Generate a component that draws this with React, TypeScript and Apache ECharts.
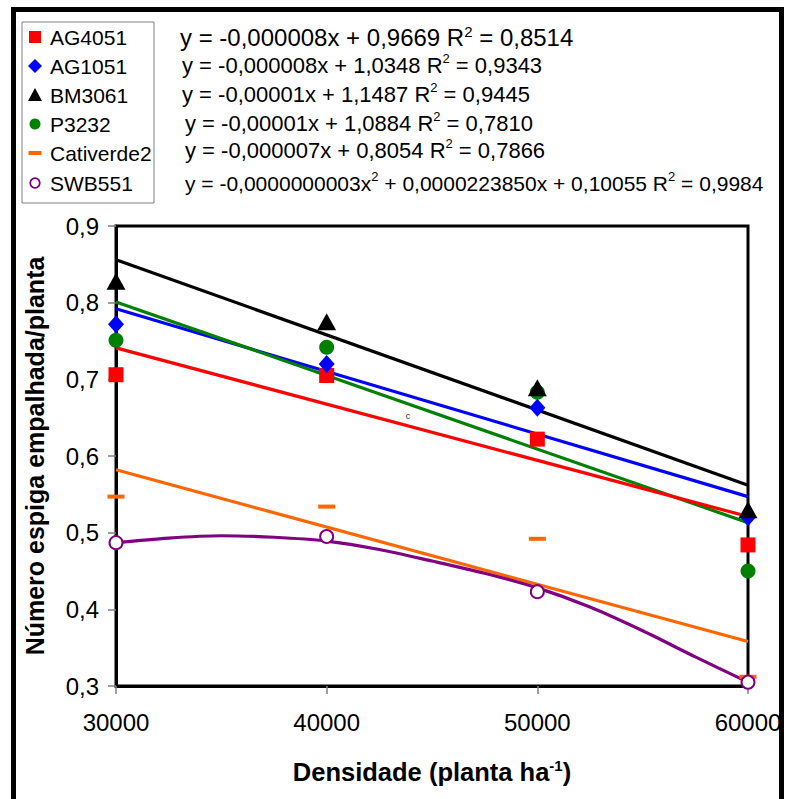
import React, { useEffect, useRef } from "react";
import * as echarts from "echarts";

const densities = [30000, 40000, 50000, 60000];
const ag4051 = [0.706, 0.705, 0.622, 0.484];
const ag1051 = [0.772, 0.72, 0.663, 0.52];
const bm3061 = [0.828, 0.775, 0.689, 0.53];
const p3232 = [0.751, 0.742, 0.683, 0.45];
const cativerde2 = [0.547, 0.534, 0.492, 0.312];
const swb551 = [0.487, 0.495, 0.423, 0.305];

const trendX = [30000, 60000];
const ag4051Trend = [0.741, 0.521];
const ag1051Trend = [0.792, 0.547];
const bm3061Trend = [0.856, 0.562];
const p3232Trend = [0.801, 0.513];
const cativerde2Trend = [0.582, 0.358];

const swbCurveX = [30000, 32500, 35000, 37500, 40000, 42500, 45000, 47500, 50000, 52500, 55000, 57500, 60000];
const swbCurveY = [0.487, 0.493, 0.496, 0.494, 0.489, 0.478, 0.463, 0.447, 0.428, 0.403, 0.372, 0.338, 0.305];

const names = ["AG4051", "AG1051", "BM3061", "P3232", "Cativerde2", "SWB551"];
const equations = [
  ["y = -0,000008x + 0,9669 R", "2", " = 0,8514"],
  ["y = -0,000008x + 1,0348 R", "2", " = 0,9343"],
  ["y = -0,00001x + 1,1487 R", "2", " = 0,9445"],
  ["y = -0,00001x + 1,0884 R", "2", " = 0,7810"],
  ["y = -0,000007x + 0,8054 R", "2", " = 0,7866"],
  ["y = -0,0000000003x", "2", " + 0,0000223850x + 0,10055 R", "2", " = 0,9984"],
];

const FONT = "'Liberation Sans', Arial, Helvetica, sans-serif";
const RED = "#FF0000";
const BLUE = "#0000FF";
const BLACK = "#000000";
const GREEN = "#008000";
const ORANGE = "#FF6600";
const PURPLE = "#800080";

const pairs = (xs: number[], ys: number[]) => xs.map((x, i) => [x, ys[i]]);

function eqText(parts: string[]) {
  return parts.map((p, i) => (i % 2 === 0 ? `{n|${p}}` : `{s|${p}}`)).join("");
}

export default function App() {
  const ref = useRef<HTMLDivElement>(null);
  useEffect(() => {
    if (!ref.current) return;
    const chart = echarts.init(ref.current, null, { renderer: "svg" });

    const legendY = [37, 66, 95, 124, 153, 183];
    const eqX = [180, 182, 182, 185, 185, 185];
    const eqY = [37, 65, 94, 123, 150, 183];
    const eqSize = [24, 22, 22, 22, 22, 21];
    const lx = 35;

    const graphic: any[] = [
      {
        type: "rect",
        shape: { x: 22, y: 22, width: 132, height: 181 },
        style: { fill: "#fff", stroke: "#808080", lineWidth: 1 },
        z: 10,
      },
      { type: "rect", shape: { x: lx - 6, y: legendY[0] - 6, width: 12, height: 12 }, style: { fill: RED }, z: 11 },
      {
        type: "polygon",
        shape: { points: [[lx, legendY[1] - 7], [lx + 7, legendY[1]], [lx, legendY[1] + 7], [lx - 7, legendY[1]]] },
        style: { fill: BLUE },
        z: 11,
      },
      {
        type: "polygon",
        shape: { points: [[lx, legendY[2] - 7], [lx + 7, legendY[2] + 6], [lx - 7, legendY[2] + 6]] },
        style: { fill: BLACK },
        z: 11,
      },
      { type: "circle", shape: { cx: lx, cy: legendY[3], r: 5.5 }, style: { fill: GREEN }, z: 11 },
      { type: "rect", shape: { x: lx - 6.5, y: legendY[4] - 2, width: 13, height: 4 }, style: { fill: ORANGE }, z: 11 },
      {
        type: "circle",
        shape: { cx: lx, cy: legendY[5], r: 4.8 },
        style: { fill: "#fff", stroke: PURPLE, lineWidth: 1.8 },
        z: 11,
      },
      ...names.map((n, i) => ({
        type: "text",
        x: 50,
        y: legendY[i],
        z: 11,
        style: { text: n, fontFamily: FONT, fontSize: 21, fill: "#000", verticalAlign: "middle", align: "left" },
      })),
      ...equations.map((parts, i) => ({
        type: "text",
        x: eqX[i],
        y: eqY[i],
        z: 11,
        style: {
          text: eqText(parts),
          verticalAlign: "middle",
          align: "left",
          rich: {
            n: { fontFamily: FONT, fontSize: eqSize[i], fill: "#000", lineHeight: 26 },
            s: {
              fontFamily: FONT,
              fontSize: i === 0 ? 15 : 13,
              fill: "#000",
              verticalAlign: "top",
              lineHeight: i === 0 ? 12 : 18,
            },
          },
        },
      })),
      {
        type: "text",
        x: 408,
        y: 416,
        z: 11,
        style: { text: "c", fontFamily: FONT, fontSize: 9, fill: "#333", align: "center", verticalAlign: "middle" },
      },
      {
        type: "rect",
        shape: { x: 13.5, y: 9.5, width: 768, height: 800 },
        style: { fill: "none", stroke: "#000", lineWidth: 5 },
        z: 100,
      },
    ];

    const lineSeries = (data: number[][], color: string, name: string) => ({
      type: "line",
      name,
      data,
      showSymbol: false,
      symbol: "none",
      lineStyle: { color, width: 3.2 },
      z: 2,
      silent: true,
    });

    const scatter = (ys: number[], name: string, symbol: string, size: any, itemStyle: any) => ({
      type: "scatter",
      name,
      data: pairs(densities, ys),
      symbol,
      symbolSize: size,
      itemStyle: { opacity: 1, ...itemStyle },
      z: 5,
    });

    const option: any = {
      animation: false,
      backgroundColor: "#fff",
      textStyle: { fontFamily: FONT },
      grid: {
        left: 116,
        top: 226,
        width: 632,
        height: 460,
        show: true,
        borderColor: "#000",
        borderWidth: 3,
        backgroundColor: "transparent",
      },
      xAxis: {
        type: "value",
        min: 30000,
        max: 60000,
        interval: 10000,
        axisLine: { show: true, onZero: false, lineStyle: { color: "#000", width: 3 } },
        axisTick: { show: true, length: 8, lineStyle: { color: "#808080", width: 1.5 } },
        axisLabel: {
          margin: 24,
          color: "#000",
          fontSize: 24,
          fontFamily: FONT,
          showMinLabel: true,
          showMaxLabel: true,
          formatter: (v: number) => String(Math.round(v)),
        },
        splitLine: { show: false },
        name: "{b|Densidade (planta ha}{s|-1}{b|)}",
        nameLocation: "middle",
        nameGap: 72,
        nameTextStyle: {
          rich: {
            b: { fontFamily: FONT, fontSize: 25.5, fontWeight: "bold", color: "#000", lineHeight: 28 },
            s: { fontFamily: FONT, fontSize: 15, fontWeight: "bold", color: "#000", verticalAlign: "top", lineHeight: 14 },
          },
        },
      },
      yAxis: {
        type: "value",
        min: 0.3,
        max: 0.9,
        interval: 0.1,
        axisLine: { show: true, onZero: false, lineStyle: { color: "#000", width: 3 } },
        axisTick: { show: true, length: 8, lineStyle: { color: "#808080", width: 1.5 } },
        axisLabel: {
          margin: 17,
          color: "#000",
          fontSize: 24,
          fontFamily: FONT,
          formatter: (v: number) => v.toFixed(1).replace(".", ","),
        },
        splitLine: { show: false },
        name: "Número espiga empalhada/planta",
        nameLocation: "middle",
        nameGap: 69,
        nameTextStyle: { fontFamily: FONT, fontSize: 25, fontWeight: "bold", color: "#000" },
      },
      series: [
        lineSeries(pairs(trendX, bm3061Trend), BLACK, "BM3061 tendência"),
        lineSeries(pairs(trendX, ag1051Trend), BLUE, "AG1051 tendência"),
        lineSeries(pairs(trendX, p3232Trend), GREEN, "P3232 tendência"),
        lineSeries(pairs(trendX, ag4051Trend), RED, "AG4051 tendência"),
        lineSeries(pairs(trendX, cativerde2Trend), ORANGE, "Cativerde2 tendência"),
        { ...lineSeries(pairs(swbCurveX, swbCurveY), PURPLE, "SWB551 tendência"), smooth: 0.3 },
        scatter(ag4051, "AG4051", "rect", 15, { color: RED }),
        scatter(p3232, "P3232", "circle", 15, { color: GREEN }),
        scatter(ag1051, "AG1051", "diamond", [16, 18], { color: BLUE }),
        scatter(bm3061, "BM3061", "triangle", [19, 17], { color: BLACK }),
        scatter(cativerde2, "Cativerde2", "rect", [17, 4], { color: ORANGE }),
        scatter(swb551, "SWB551", "circle", 13, { color: "#fff", borderColor: PURPLE, borderWidth: 2 }),
      ],
      graphic,
    };
    chart.setOption(option);
    return () => chart.dispose();
  }, []);

  return (
    <div
      ref={ref}
      style={{ position: "absolute", left: 0, top: 0, width: 786, height: 799, background: "#fff" }}
    />
  );
}
